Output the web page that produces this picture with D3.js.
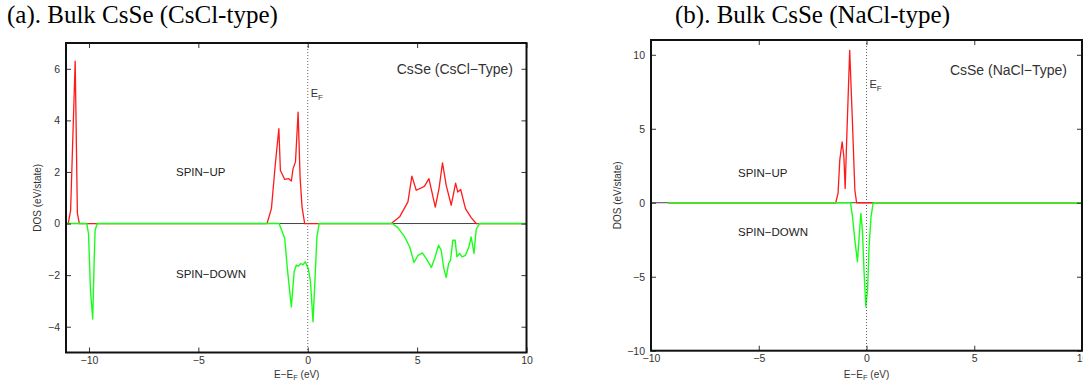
<!DOCTYPE html>
<html>
<head>
<meta charset="utf-8">
<script src="https://cdn.jsdelivr.net/npm/d3@7"></script>
<style>
html,body{margin:0;padding:0;background:#fff;}
svg{display:block;}
</style>
</head>
<body>
<svg id="chart" width="1083" height="385"></svg>
<script>
// ---------- DATA ----------
const titles = ["(a). Bulk CsSe (CsCl-type)", "(b). Bulk CsSe (NaCl-type)"];
const legendLabels = ["CsSe (CsCl\u2212Type)", "CsSe (NaCl\u2212Type)"];
const xTicksA = [-10, -5, 0, 5, 10];
const yTicksA = [-4, -2, 0, 2, 4, 6];
const xTicksB = [-10, -5, 0, 5, 10];
const yTicksB = [-10, -5, 0, 5, 10];

// Panel (a) CsCl-type: [E-EF (eV), DOS]
const upE_A   = [-11.05,-10.95,-10.84,-10.63,-10.53,-10.44,-1.86,-1.66,-1.48,-1.32,-1.25,-1.05,-0.87,-0.75,-0.67,-0.56,-0.44,-0.35,-0.26,-0.14,3.82,4.2,4.58,4.76,4.96,5.19,5.34,5.54,5.83,6.0,6.16,6.33,6.56,6.76,6.86,6.99,7.21,7.47,7.7,10];
const upD_A   = [0,0,0.5,6.3,0.4,0,0,0.58,2.32,3.68,2.06,1.71,1.74,1.65,2.13,2.39,4.32,1.8,0.64,0,0,0.26,0.84,1.84,1.29,1.38,1.45,1.74,0.64,1.35,2.35,1.48,0.71,1.57,1.22,1.32,0.58,0.23,0,0];
const downE_A = [-11.05,-10.1,-10.02,-9.93,-9.83,-9.76,-9.72,-9.62,-1.31,-1.05,-0.94,-0.75,-0.62,-0.52,-0.42,-0.31,-0.22,-0.11,0.02,0.12,0.24,0.33,0.42,0.52,3.86,4.12,4.43,4.66,4.86,5.04,5.24,5.42,5.65,5.8,5.98,6.1,6.22,6.33,6.44,6.53,6.63,6.74,6.82,6.94,7.06,7.21,7.37,7.47,7.6,7.7,7.85,10];
const downD_A = [0,0,-0.4,-2.6,-3.7,-1.4,-0.26,0,0,-0.58,-1.68,-3.23,-1.87,-1.61,-1.65,-1.55,-1.6,-1.48,-1.74,-2.2,-3.81,-2.2,-0.52,0,0,-0.16,-0.52,-0.9,-1.51,-1.23,-1.14,-1.36,-1.7,-1.36,-0.84,-1.03,-1.74,-2.09,-1.55,-1.42,-0.65,-0.65,-1.29,-1.16,-1.29,-1.23,-0.9,-0.52,-1.16,-0.23,0,0];

// Panel (b) NaCl-type
const upE_B   = [-9.2,-1.43,-1.32,-1.24,-1.13,-1.05,-0.99,-0.93,-0.78,-0.65,-0.54,-0.46,10];
const upD_B   = [0,0,0.63,2.88,4.12,3.11,0.97,3.78,10.3,5.36,0.86,0,0];
const downE_B = [-9.2,-0.74,-0.65,-0.54,-0.42,-0.34,-0.26,-0.19,-0.11,-0.03,0.05,0.12,0.21,0.31,10];
const downD_B = [0,0,-0.95,-2.52,-3.99,-2.3,-0.72,-1.85,-4.77,-7.03,-5.9,-2.97,-0.95,0,0];

// ---------- DRAW ----------
const svg = d3.select("#chart");
const sans = "'Liberation Sans', Arial, Helvetica, sans-serif";
const serif = "'Liberation Serif', 'Times New Roman', serif";

function zip(a, b){ return a.map((v,i)=>[v,b[i]]); }

function panel(cfg){
  const g = svg.append("g");
  const x = d3.scaleLinear().domain(cfg.xDomain).range([cfg.left, cfg.right]);
  const y = d3.scaleLinear().domain(cfg.yDomain).range([cfg.bottom, cfg.top]);
  const tickLen = 5;

  // zero line
  g.append("line").attr("x1", cfg.left).attr("x2", cfg.right)
    .attr("y1", y(0)).attr("y2", y(0))
    .attr("stroke", "#444").attr("stroke-width", 1);

  const line = d3.line().x(d=>x(d[0])).y(d=>y(d[1]));
  g.append("path").datum(cfg.up).attr("d", line)
    .attr("fill","none").attr("stroke","#ff1a1a").attr("stroke-width",1.3).attr("stroke-linejoin","round");
  g.append("path").datum(cfg.down).attr("d", line)
    .attr("fill","none").attr("stroke","#1aff1a").attr("stroke-width",1.4).attr("stroke-linejoin","round");

  // Fermi level dotted line
  g.append("line").attr("x1", x(0)).attr("x2", x(0))
    .attr("y1", cfg.top).attr("y2", cfg.bottom)
    .attr("stroke","#666").attr("stroke-width",1).attr("stroke-dasharray","1,2");

  // axes (inward ticks on all sides)
  const axB = d3.axisBottom(x).tickValues(cfg.xTicks).tickSize(-tickLen).tickPadding(4).tickFormat(d=>d<0?"\u2212"+Math.abs(d):d);
  const axT = d3.axisTop(x).tickValues(cfg.xTicks).tickSize(-tickLen).tickFormat("");
  const axL = d3.axisLeft(y).tickValues(cfg.yTicks).tickSize(-tickLen).tickPadding(6).tickFormat(d=>d<0?"\u2212"+Math.abs(d):d);
  const axR = d3.axisRight(y).tickValues(cfg.yTicks).tickSize(-tickLen).tickFormat("");

  const styleAx = sel => {
    sel.select(".domain").remove();
    sel.selectAll(".tick line").attr("stroke","#333").attr("stroke-width",1);
    sel.selectAll(".tick text").attr("fill","#333").style("font-family",sans).style("font-size","10.5px");
  };
  g.append("g").attr("transform",`translate(0,${cfg.bottom})`).call(axB).call(styleAx);
  g.append("g").attr("transform",`translate(0,${cfg.top})`).call(axT).call(styleAx);
  g.append("g").attr("transform",`translate(${cfg.left},0)`).call(axL).call(styleAx);
  g.append("g").attr("transform",`translate(${cfg.right},0)`).call(axR).call(styleAx);

  // frame
  g.append("rect").attr("x",cfg.left).attr("y",cfg.top)
    .attr("width",cfg.right-cfg.left).attr("height",cfg.bottom-cfg.top)
    .attr("fill","none").attr("stroke","#111").attr("stroke-width",2);

  // title
  svg.append("text").attr("x",cfg.titleX).attr("y",23)
    .style("font-family",serif).style("font-size","25px").attr("fill","#000")
    .text(cfg.title);

  // legend label
  g.append("text").attr("x",cfg.legendX).attr("y",cfg.legendY)
    .attr("text-anchor","end")
    .style("font-family",sans).style("font-size","14px").attr("fill","#333")
    .text(cfg.legend);

  // E_F label
  const ef = g.append("text").attr("x",x(0)+3).attr("y",cfg.efY)
    .style("font-family",sans).style("font-size","11px").attr("fill","#333");
  ef.append("tspan").text("E");
  ef.append("tspan").attr("dy",3).style("font-size","8px").text("F");

  // spin labels
  g.append("text").attr("x",cfg.spinX).attr("y",cfg.spinUpY)
    .style("font-family",sans).style("font-size","11.5px").attr("fill","#222").text("SPIN\u2212UP");
  g.append("text").attr("x",cfg.spinX).attr("y",cfg.spinDownY)
    .style("font-family",sans).style("font-size","11.5px").attr("fill","#222").text("SPIN\u2212DOWN");

  // y label
  g.append("text")
    .attr("transform",`translate(${cfg.yLabelX},${(cfg.top+cfg.bottom)/2}) rotate(-90)`)
    .attr("text-anchor","middle")
    .style("font-family",sans).style("font-size","10px").attr("fill","#333")
    .text("DOS (eV/state)");

  // x label
  const xl = g.append("text").attr("x",x(0)+cfg.xLabelDx).attr("y",378)
    .attr("text-anchor","middle")
    .style("font-family",sans).style("font-size","10px").attr("fill","#333");
  xl.append("tspan").text("E\u2212E");
  xl.append("tspan").attr("dy",2).style("font-size","7.5px").text("F");
  xl.append("tspan").attr("dy",-2).text(" (eV)");
}

panel({
  left:66, right:526.5, top:43, bottom:352.5,
  xDomain:[-11.05,10], yDomain:[-5,7],
  xTicks:xTicksA, yTicks:yTicksA,
  up:zip(upE_A,upD_A), down:zip(downE_A,downD_A),
  title:titles[0], titleX:7,
  legend:legendLabels[0], legendX:513, legendY:74,
  efY:97, spinX:176, spinUpY:176, spinDownY:278,
  yLabelX:41, xLabelDx:-11
});

panel({
  left:651, right:1082, top:40, bottom:350.7,
  xDomain:[-10,10], yDomain:[-10,11],
  xTicks:xTicksB, yTicks:yTicksB,
  up:zip(upE_B,upD_B), down:zip(downE_B,downD_B),
  title:titles[1], titleX:675,
  legend:legendLabels[1], legendX:1067, legendY:75,
  efY:88, spinX:738, spinUpY:177, spinDownY:236,
  yLabelX:621, xLabelDx:0
});
</script>
</body>
</html>
